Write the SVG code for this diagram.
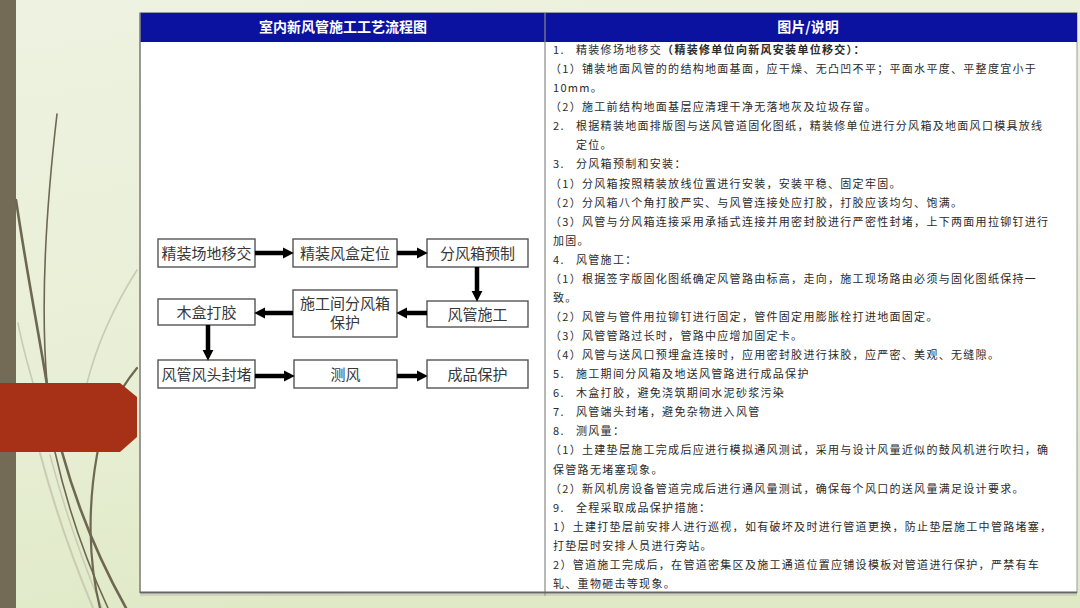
<svg xmlns="http://www.w3.org/2000/svg" width="1080" height="608" viewBox="0 0 1080 608">
<defs>
<linearGradient id="bg" x1="0" y1="0" x2="0.3" y2="1">
<stop offset="0" stop-color="#eef2e1"/>
<stop offset="0.6" stop-color="#e9efd6"/>
<stop offset="1" stop-color="#dfe9c6"/>
</linearGradient>
<marker id="ah" viewBox="0 0 10 10" markerUnits="userSpaceOnUse" markerWidth="11" markerHeight="12" refX="2" refY="5" orient="auto">
<path d="M0,0 L10,5 L0,10 z" fill="#000"/>
</marker>
<style>
.box{fill:#fff;stroke:#555;stroke-width:1.4}
.lbl{font-family:"Noto Sans CJK SC","Noto Sans",sans-serif;font-size:15px;fill:#383838;text-anchor:middle}
.arr{stroke:#000;stroke-width:4.5;fill:none;marker-end:url(#ah)}
.hd{font-family:"Noto Sans CJK SC","Noto Sans",sans-serif;font-size:14px;font-weight:700;fill:#fff;text-anchor:middle}
.tx{font-family:"Noto Sans CJK SC","Noto Sans",sans-serif;font-size:11px;fill:#2a2a2a;letter-spacing:1.3px}
.b{font-weight:700}
.deco{fill:none;stroke:#6e6852;stroke-linecap:round}
.faint{fill:none;stroke:#c9cbb3;stroke-linecap:round}
</style>
</defs>
<rect x="0" y="0" width="1080" height="608" fill="url(#bg)"/>
<rect x="0" y="0" width="16" height="608" fill="#736b55"/>
<g id="decoration">
<path class="faint" stroke-width="1.6" d="M137,270 C118,300 98,340 87,383"/>
<path class="faint" stroke-width="1.6" d="M18,323 C22,345 28,365 33,383"/>
<path class="faint" stroke-width="2" d="M40,453 C55,510 75,565 93,608"/>
<path class="faint" stroke-width="1.5" d="M50,455 C66,515 84,565 102,608"/>
<path class="deco" stroke-width="1.6" d="M57,114 C47,200 40,300 47,383 C50,420 52,440 55,452 C68,510 88,565 108,608"/>
<path class="deco" stroke-width="2.6" d="M16,200 C28,280 40,340 47,385 C52,420 57,440 62,452 C78,510 102,565 126,608"/>
<path class="deco" stroke-width="2.2" d="M137,368 C115,395 102,425 97,455 C88,505 88,560 100,608"/>
</g>
<polygon id="red-tab" points="0,383 120,383 137,397 137,437 120,452 0,452" fill="#a63117"/>
<g id="table">
<rect x="140" y="12.5" width="937" height="580" fill="#fff" stroke="#9a9a9a" stroke-width="1"/>
<rect x="140" y="13" width="937" height="29" fill="#0c12a0"/>
<line x1="545" y1="13" x2="545" y2="596" stroke="#888" stroke-width="1.2"/>
<line x1="140" y1="13" x2="140" y2="593" stroke="#888" stroke-width="1.5"/>
<line x1="140" y1="592.5" x2="1077" y2="592.5" stroke="#666" stroke-width="2"/>
<line x1="140" y1="595" x2="1077" y2="595" stroke="#bbb" stroke-width="1"/>
<text class="hd" x="343" y="32">室内新风管施工工艺流程图</text>
<text class="hd" x="808" y="32">图片/说明</text>
</g>
<g id="n1"><rect class="box" x="158" y="239" width="97" height="28"/><text class="lbl" x="206.5" y="259">精装场地移交</text></g>
<g id="n2"><rect class="box" x="293" y="239" width="104" height="28"/><text class="lbl" x="345" y="259">精装风盒定位</text></g>
<g id="n3"><rect class="box" x="427" y="239" width="101" height="28"/><text class="lbl" x="477.5" y="259">分风箱预制</text></g>
<g id="n4"><rect class="box" x="427" y="301" width="101" height="26"/><text class="lbl" x="477.5" y="320">风管施工</text></g>
<g id="n5"><rect class="box" x="293" y="290" width="104" height="47"/><text class="lbl" x="345" y="309">施工间分风箱</text><text class="lbl" x="345" y="328">保护</text></g>
<g id="n6"><rect class="box" x="158" y="299" width="97" height="26"/><text class="lbl" x="206.5" y="318">木盒打胶</text></g>
<g id="n7"><rect class="box" x="158" y="360" width="97" height="28"/><text class="lbl" x="206.5" y="380">风管风头封堵</text></g>
<g id="n8"><rect class="box" x="294" y="360" width="103" height="28"/><text class="lbl" x="345.5" y="380">测风</text></g>
<g id="n9"><rect class="box" x="427" y="360" width="101" height="28"/><text class="lbl" x="477.5" y="380">成品保护</text></g>
<g id="connectors">
<line class="arr" x1="255" y1="253" x2="285" y2="253"/>
<line class="arr" x1="397" y1="253" x2="419" y2="253"/>
<line class="arr" x1="477" y1="267" x2="477" y2="293"/>
<line class="arr" x1="427" y1="313" x2="405" y2="313"/>
<line class="arr" x1="293" y1="313" x2="263" y2="313"/>
<line class="arr" x1="208" y1="325" x2="208" y2="352"/>
<line class="arr" x1="255" y1="376" x2="286" y2="376"/>
<line class="arr" x1="397" y1="376" x2="419" y2="376"/>
</g>
<g id="notes">
<text class="tx" x="553" y="54">1.</text><text class="tx" x="576" y="54">精装修场地移交<tspan class="b">（精装修单位向新风安装单位移交）：</tspan></text>
<text class="tx" x="550" y="73">（1）铺装地面风管的的结构地面基面，应干燥、无凸凹不平；平面水平度、平整度宜小于</text>
<text class="tx" x="553" y="92">10mm。</text>
<text class="tx" x="550" y="111">（2）施工前结构地面基层应清理干净无落地灰及垃圾存留。</text>
<text class="tx" x="553" y="130">2.</text><text class="tx" x="576" y="130">根据精装地面排版图与送风管道固化图纸，精装修单位进行分风箱及地面风口模具放线</text>
<text class="tx" x="576" y="149">定位。</text>
<text class="tx" x="553" y="168">3.</text><text class="tx" x="576" y="168">分风箱预制和安装：</text>
<text class="tx" x="550" y="187.5">（1）分风箱按照精装放线位置进行安装，安装平稳、固定牢固。</text>
<text class="tx" x="550" y="206.6">（2）分风箱八个角打胶严实、与风管连接处应打胶，打胶应该均匀、饱满。</text>
<text class="tx" x="550" y="225.6">（3）风管与分风箱连接采用承插式连接并用密封胶进行严密性封堵，上下两面用拉铆钉进行</text>
<text class="tx" x="553" y="244.7">加固。</text>
<text class="tx" x="553" y="263.8">4.</text><text class="tx" x="576" y="263.8">风管施工：</text>
<text class="tx" x="550" y="282.8">（1）根据签字版固化图纸确定风管路由标高，走向，施工现场路由必须与固化图纸保持一</text>
<text class="tx" x="553" y="301.9">致。</text>
<text class="tx" x="550" y="321">（2）风管与管件用拉铆钉进行固定，管件固定用膨胀栓打进地面固定。</text>
<text class="tx" x="550" y="340">（3）风管管路过长时，管路中应增加固定卡。</text>
<text class="tx" x="550" y="359">（4）风管与送风口预埋盒连接时，应用密封胶进行抹胶，应严密、美观、无缝隙。</text>
<text class="tx" x="553" y="378">5.</text><text class="tx" x="576" y="378">施工期间分风箱及地送风管路进行成品保护</text>
<text class="tx" x="553" y="397">6.</text><text class="tx" x="576" y="397">木盒打胶，避免浇筑期间水泥砂浆污染</text>
<text class="tx" x="553" y="416">7.</text><text class="tx" x="576" y="416">风管端头封堵，避免杂物进入风管</text>
<text class="tx" x="553" y="435">8.</text><text class="tx" x="576" y="435">测风量：</text>
<text class="tx" x="550" y="454">（1）土建垫层施工完成后应进行模拟通风测试，采用与设计风量近似的鼓风机进行吹扫，确</text>
<text class="tx" x="553" y="473.6">保管路无堵塞现象。</text>
<text class="tx" x="550" y="492.6">（2）新风机房设备管道完成后进行通风量测试，确保每个风口的送风量满足设计要求。</text>
<text class="tx" x="553" y="511.7">9.</text><text class="tx" x="576" y="511.7">全程采取成品保护措施：</text>
<text class="tx" x="553" y="530.8">1）土建打垫层前安排人进行巡视，如有破坏及时进行管道更换，防止垫层施工中管路堵塞，</text>
<text class="tx" x="553" y="549.8">打垫层时安排人员进行旁站。</text>
<text class="tx" x="553" y="569">2）管道施工完成后，在管道密集区及施工通道位置应铺设模板对管道进行保护，严禁有车</text>
<text class="tx" x="553" y="588">轧、重物砸击等现象。</text>
</g>
</svg>
